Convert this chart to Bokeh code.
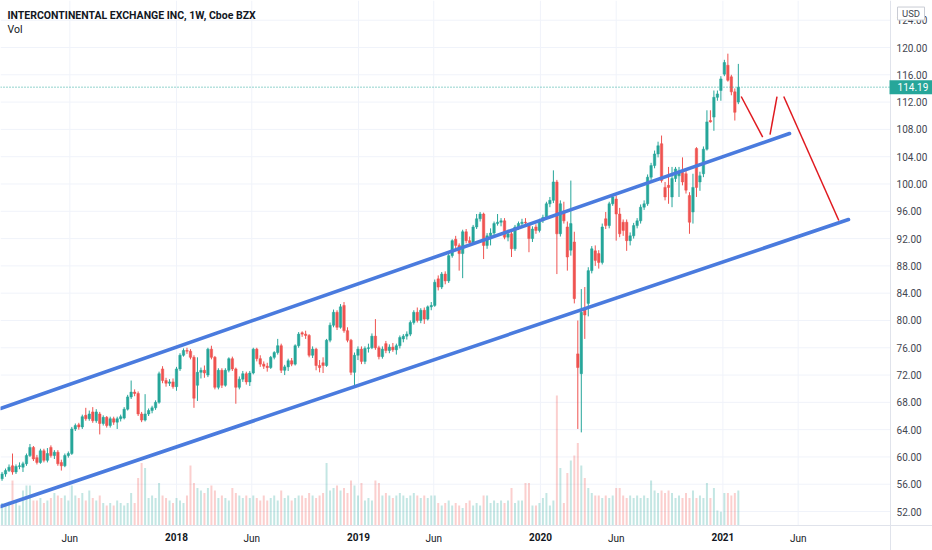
import pandas as pd
from bokeh.plotting import figure
from bokeh.models import (ColumnDataSource, Range1d, FixedTicker, NumeralTickFormatter,
                          Label, LinearAxis)
from bokeh.core.properties import value
from bokeh.embed import file_html
from bokeh.resources import INLINE

# ---------------- data ----------------
first_week = "2017-01-16"

opens = [56.8, 57.5, 58.0, 58.7, 57.8, 58.6, 58.5, 59.0, 60.2, 61.4,
         59.9, 59.2, 60.9, 59.5, 61.4, 60.2, 60.7, 59.2, 58.7, 60.2,
         60.5, 64.1, 64.7, 64.4, 66.1, 65.6, 66.6, 65.3, 66.3, 64.9,
         65.8, 64.6, 65.6, 65.1, 65.6, 65.7, 67.0, 68.8, 69.5, 69.3,
         66.3, 65.4, 66.3, 66.8, 67.2, 68.0, 72.9, 71.2, 70.8, 71.0,
         70.3, 72.9, 74.9, 75.6, 75.5, 74.6, 70.5, 72.4, 72.7, 72.0,
         75.8, 74.6, 70.2, 72.7, 70.5, 72.7, 74.4, 72.9, 70.2, 71.4,
         72.2, 71.0, 72.3, 75.8, 74.4, 73.6, 73.3, 73.1, 74.6, 75.3,
         76.3, 72.7, 73.2, 74.1, 73.6, 76.3, 78.2, 78.0, 77.8, 74.9,
         75.8, 73.4, 73.8, 73.4, 77.1, 79.3, 81.2, 79.0, 82.2, 78.5,
         77.1, 72.4, 74.9, 75.8, 74.0, 75.9, 76.0, 77.7, 76.0, 74.7,
         76.6, 75.6, 76.1, 75.7, 76.3, 77.3, 77.7, 78.0, 79.7, 81.2,
         80.0, 81.5, 80.2, 82.0, 82.2, 86.1, 84.9, 86.8, 85.8, 89.5,
         91.9, 91.0, 89.8, 93.0, 91.7, 91.4, 93.7, 94.9, 95.6, 91.0,
         92.4, 92.8, 94.2, 94.4, 94.6, 92.2, 92.7, 90.5, 93.7, 94.2,
         94.4, 93.9, 92.0, 93.7, 93.2, 94.6, 95.1, 97.1, 97.6, 100.3,
         92.7, 96.0, 93.7, 90.3, 91.5, 75.1, 72.2, 81.6, 82.5, 87.3,
         90.2, 89.8, 88.5, 94.9, 93.9, 97.1, 97.8, 95.6, 94.4, 94.4,
         91.7, 92.4, 93.9, 94.6, 96.6, 97.1, 101.0, 102.7, 104.4, 105.9,
         99.5, 99.8, 98.1, 100.8, 101.2, 101.7, 101.5, 98.3, 95.9, 105.2,
         100.3, 101.5, 105.1, 109.3, 109.8, 112.7, 113.7, 116.1, 117.4, 115.7,
         113.5, 112.0]

highs = [57.8, 58.3, 58.9, 60.5, 58.9, 59.2, 59.3, 60.5, 61.9, 61.6,
         60.3, 61.2, 61.2, 61.3, 61.7, 61.0, 61.0, 59.6, 60.5, 60.8,
         64.4, 64.9, 65.0, 66.2, 67.2, 66.8, 67.3, 67.0, 66.6, 66.1,
         66.0, 65.9, 65.9, 65.9, 66.2, 67.3, 69.1, 71.2, 69.9, 69.6,
         66.6, 69.2, 67.1, 67.5, 68.3, 72.5, 73.3, 71.6, 71.4, 71.5,
         73.2, 75.2, 75.9, 76.0, 75.8, 74.9, 74.6, 73.1, 73.4, 76.0,
         76.3, 74.8, 73.0, 73.0, 73.0, 74.6, 74.7, 73.1, 71.8, 72.6,
         72.5, 72.6, 76.0, 76.0, 74.9, 74.0, 73.8, 74.8, 75.5, 77.3,
         76.6, 73.5, 74.4, 74.5, 76.5, 78.3, 78.4, 78.5, 78.0, 76.2,
         76.0, 74.2, 74.6, 77.3, 79.7, 81.6, 81.5, 82.4, 82.7, 79.0,
         77.3, 75.3, 76.2, 76.2, 76.2, 76.6, 78.1, 80.2, 76.3, 76.2,
         77.0, 76.5, 76.7, 76.6, 77.8, 78.0, 78.4, 80.0, 81.5, 81.9,
         81.8, 81.9, 82.2, 82.7, 86.0, 86.6, 87.1, 87.2, 89.9, 91.9,
         92.4, 91.3, 93.3, 93.4, 92.3, 94.0, 95.6, 95.9, 95.8, 92.8,
         93.5, 94.5, 95.6, 95.0, 95.0, 93.3, 93.0, 94.0, 94.5, 94.9,
         95.0, 94.3, 93.8, 94.1, 94.9, 95.5, 97.4, 98.1, 102.0, 100.6,
         97.6, 97.4, 94.5, 100.5, 93.0, 80.0, 84.6, 84.9, 87.8, 90.9,
         91.0, 90.3, 94.2, 95.9, 97.4, 98.5, 98.3, 96.5, 94.8, 94.8,
         92.9, 94.3, 95.0, 97.0, 97.6, 101.4, 103.1, 104.9, 106.2, 107.1,
         100.3, 102.5, 102.5, 102.5, 102.5, 103.9, 102.0, 98.8, 101.5, 105.4,
         101.8, 105.5, 110.8, 110.8, 113.7, 113.7, 115.8, 118.2, 119.1, 116.0,
         114.0, 117.6]

lows = [56.5, 57.1, 57.8, 57.4, 57.5, 58.2, 57.8, 58.7, 60.0, 59.4,
        58.9, 59.0, 59.2, 59.2, 59.9, 59.7, 58.7, 58.0, 58.5, 59.9,
        60.3, 63.8, 64.0, 64.1, 65.3, 65.3, 65.0, 65.0, 63.3, 64.6,
        64.3, 64.3, 64.7, 64.1, 65.2, 65.5, 66.8, 68.5, 68.9, 66.0,
        65.1, 65.2, 66.0, 66.4, 66.9, 67.8, 70.8, 70.3, 70.4, 70.0,
        69.7, 72.6, 74.7, 75.1, 74.3, 67.2, 68.2, 71.5, 71.6, 71.7,
        74.3, 69.9, 69.9, 70.1, 70.3, 72.4, 72.6, 67.8, 69.9, 71.0,
        70.6, 70.4, 72.1, 74.0, 73.2, 72.9, 72.5, 72.9, 74.3, 75.0,
        72.3, 72.0, 72.6, 73.3, 73.4, 76.0, 77.6, 77.3, 74.6, 74.5,
        72.7, 72.4, 72.3, 73.2, 76.8, 79.0, 78.6, 78.8, 78.2, 76.8,
        72.0, 70.5, 74.2, 73.6, 73.6, 75.3, 75.8, 75.7, 74.3, 74.4,
        75.2, 75.2, 75.4, 75.0, 75.9, 76.8, 77.2, 77.7, 79.4, 79.7,
        79.6, 79.5, 80.0, 81.5, 82.0, 84.4, 84.6, 85.3, 85.5, 89.2,
        90.5, 87.3, 86.2, 91.3, 90.9, 91.1, 93.4, 94.5, 89.0, 90.5,
        91.0, 92.5, 93.9, 93.8, 91.9, 91.6, 89.3, 90.2, 93.3, 93.8,
        93.7, 90.0, 91.5, 92.7, 92.9, 94.3, 94.8, 96.6, 97.2, 86.8,
        92.3, 94.2, 87.3, 89.5, 82.5, 64.1, 63.6, 77.3, 80.6, 86.9,
        88.0, 87.6, 88.2, 93.4, 93.5, 96.8, 91.7, 92.2, 92.4, 90.2,
        91.0, 92.0, 93.5, 94.2, 96.2, 96.8, 100.6, 102.3, 103.9, 100.2,
        97.6, 97.1, 96.6, 100.3, 98.1, 99.8, 98.6, 92.7, 94.2, 98.1,
        99.0, 101.0, 104.9, 109.0, 107.8, 112.2, 112.2, 115.8, 115.0, 113.0,
        109.3, 111.7]

closes = [57.5, 58.0, 58.5, 57.8, 58.6, 58.7, 59.0, 60.2, 61.4, 59.7,
          59.2, 60.9, 59.5, 60.5, 60.2, 60.7, 59.0, 58.7, 60.2, 60.5,
          64.1, 64.6, 64.4, 65.9, 65.6, 66.3, 65.3, 66.6, 64.9, 65.8,
          64.6, 65.6, 65.1, 65.6, 65.9, 67.0, 68.8, 69.5, 69.3, 66.3,
          65.4, 66.3, 66.8, 67.2, 68.0, 72.2, 71.2, 70.8, 71.0, 70.3,
          72.9, 74.9, 75.6, 75.5, 74.6, 68.6, 72.4, 72.7, 72.3, 75.8,
          74.6, 70.2, 72.7, 70.5, 72.7, 74.4, 72.9, 70.2, 71.4, 72.2,
          71.0, 72.3, 75.8, 74.4, 73.6, 73.3, 73.1, 74.6, 75.3, 76.3,
          72.7, 73.2, 74.1, 73.6, 76.3, 78.0, 78.0, 77.8, 74.9, 75.8,
          73.4, 73.1, 73.4, 77.1, 79.3, 81.2, 79.0, 82.0, 78.5, 77.1,
          72.4, 74.9, 75.8, 74.0, 75.9, 76.0, 77.7, 76.0, 74.7, 75.8,
          75.6, 76.1, 75.7, 76.3, 77.5, 77.7, 78.0, 79.7, 81.2, 80.0,
          81.5, 80.2, 82.0, 82.2, 85.6, 84.9, 86.8, 85.8, 89.5, 91.7,
          91.0, 89.8, 93.0, 91.7, 91.4, 93.7, 94.9, 95.6, 91.0, 92.4,
          92.8, 94.2, 94.4, 94.6, 92.2, 92.7, 90.5, 93.7, 94.2, 94.4,
          94.3, 92.0, 93.4, 93.2, 94.6, 95.1, 97.1, 97.6, 100.3, 92.7,
          97.1, 94.6, 89.3, 94.2, 83.2, 73.1, 81.2, 80.8, 87.3, 90.5,
          88.8, 88.5, 93.7, 93.9, 97.1, 98.1, 95.6, 92.7, 93.2, 91.7,
          92.4, 93.9, 94.6, 96.6, 97.1, 101.0, 102.7, 104.4, 105.6, 100.5,
          98.1, 99.5, 100.8, 102.2, 101.8, 100.3, 99.1, 94.4, 99.5, 99.5,
          101.2, 105.1, 109.1, 109.1, 112.7, 113.2, 115.4, 117.8, 115.2, 113.5,
          110.5, 114.19]

volumes = [9, 8.5, 9.5, 18, 9, 8, 14, 16, 16, 10,
           10, 11, 9, 10, 11, 13, 12, 11, 12, 10,
           16, 12, 11, 13, 10, 14, 11, 10, 12, 9,
           8, 9, 8, 10, 9, 8, 9, 13, 9, 19,
           25, 23, 11, 12, 11, 17, 12, 11, 10, 9,
           11, 10, 9, 12, 24, 17, 15, 14, 13, 15,
           16, 14, 11, 12, 11, 10, 15, 13, 12, 11,
           12, 11, 12, 11, 10, 12, 10, 11, 12, 10,
           14, 11, 12, 10, 11, 12, 12, 11, 13, 12,
           11, 12, 13, 25, 14, 15, 16, 14, 15, 13,
           18, 16, 12, 17, 10, 11, 10, 18, 17, 12,
           13, 12, 11, 12, 13, 12, 11, 12, 13, 12,
           11, 12, 11, 12, 12, 9, 8, 9, 10, 8,
           9, 8, 7, 9, 10, 8, 9, 8, 12, 12,
           9, 10, 9, 10, 9, 10, 15, 9, 10, 10,
           17, 17, 8, 8, 9, 11, 13, 8, 10, 52,
           23, 9, 21, 26, 28, 33, 24, 19, 15, 13,
           12, 12, 11, 12, 11, 12, 15, 15, 12, 11,
           12, 11, 12, 11, 12, 11, 18, 14, 13, 14,
           13, 14, 13, 11, 12, 11, 13, 11, 14, 11,
           12, 11, 17, 11, 15, 6, 5.5, 13, 13, 12,
           13, 14]

last_price = 114.19

month_tick_dates = ["2017-06-01", "2018-06-01", "2019-06-01", "2020-06-01", "2021-06-01"]
month_tick_labels = ["Jun", "Jun", "Jun", "Jun", "Jun"]
year_tick_dates = ["2018-01-01", "2019-01-01", "2020-01-01", "2021-01-01"]
year_tick_labels = ["2018", "2019", "2020", "2021"]
price_ticks = [52, 56, 60, 64, 68, 72, 76, 80, 84, 88, 92, 96, 100, 104, 108, 112, 116, 120, 124]

upper_channel_dates = ["2017-01-12 22:00", "2021-05-14 17:00"]
upper_channel_prices = [67.10, 107.40]
lower_channel_dates = ["2017-01-12 22:00", "2021-09-10 00:00"]
lower_channel_prices = [52.74, 94.80]

projection_dates = [["2021-02-06 19:00", "2021-03-21 21:00"],
                    ["2021-04-05 14:00", "2021-04-19 14:00"],
                    ["2021-05-03 02:00", "2021-08-21 14:00"]]
projection_prices = [[112.82, 106.86], [107.25, 112.82], [112.82, 94.65]]

title_text = "INTERCONTINENTAL EXCHANGE INC, 1W, Cboe BZX"
sub_text = "Vol"
currency = "USD"

# ---------------- view geometry (data units) ----------------
x_start, x_end = "2017-01-12 22:00", "2022-02-25 12:00"   # full canvas width
plot_right = "2021-12-03 07:00"                           # price-scale separator
tag_center = "2022-01-13 10:00"
usd_center = "2022-01-13 10:00"
y_start, y_end = 46.29, 126.89                            # full canvas height
time_axis_level = 49.95                                   # time-scale separator
usd_level = 124.98
vol_start, vol_end = -10.0, 210.0


def ms(d):
    return pd.Timestamp(d).value / 1e6


DAY = 86400000.0
UP = "#26a69a"
DOWN = "#ef5350"
TEXT = "#131722"
SCALE_TEXT = "#434651"
GRID = "#f0f3fa"
AXIS = "#e0e3eb"
FONT = "Roboto"

dates = pd.date_range(first_week, periods=len(closes), freq="7D")
xs = [d.value / 1e6 for d in dates]
is_up = [c >= o for o, c in zip(opens, closes)]
src = ColumnDataSource(dict(
    x=xs, o=opens, h=highs, l=lows, c=closes, v=volumes,
    top=[max(o, c) for o, c in zip(opens, closes)],
    bot=[min(o, c) for o, c in zip(opens, closes)],
    color=[UP if u else DOWN for u in is_up],
))

p = figure(width=932, height=550, x_range=Range1d(ms(x_start), ms(x_end)),
           y_range=Range1d(y_start, y_end), x_axis_location=None, y_axis_location=None,
           toolbar_location=None, output_backend="svg", min_border=0,
           outline_line_color=None, background_fill_color="white", border_fill_color="white")
p.xgrid.visible = False
p.ygrid.visible = False
p.extra_y_ranges = {"vol": Range1d(vol_start, vol_end)}

x_right = ms(plot_right)
all_time_ticks = [ms(d) for d in month_tick_dates + year_tick_dates]

# grid lines, limited to the plotting pane
p.segment(x0=all_time_ticks, y0=time_axis_level, x1=all_time_ticks, y1=y_end,
          line_color=GRID, line_width=1)
p.segment(x0=ms(x_start), y0=price_ticks, x1=x_right, y1=price_ticks,
          line_color=GRID, line_width=1)

# volume
p.vbar(x="x", top="v", bottom=0, width=4.0 * DAY, source=src, y_range_name="vol",
       fill_color="color", line_color=None, fill_alpha=0.28)

# candles
p.segment(x0="x", y0="h", x1="x", y1="l", source=src, line_color="color", line_width=1)
p.vbar(x="x", top="top", bottom="bot", width=4.9 * DAY, source=src,
       fill_color="color", line_color="color", line_width=0.5)

# channels
p.line([ms(d) for d in upper_channel_dates], upper_channel_prices, line_color="#4a7bde",
       line_width=3.6, line_cap="round")
p.line([ms(d) for d in lower_channel_dates], lower_channel_prices, line_color="#4a7bde",
       line_width=3.6, line_cap="round")

# projections
p.multi_line([[ms(d) for d in seg] for seg in projection_dates], projection_prices,
             line_color="#e0191f", line_width=1.5)

# last price dotted line
p.segment(x0=ms(x_start), y0=last_price, x1=x_right, y1=last_price,
          line_color=UP, line_dash="1 2", line_width=1)

# price scale (right)
ya = LinearAxis(fixed_location=x_right, ticker=FixedTicker(ticks=price_ticks),
                formatter=NumeralTickFormatter(format="0.00"))
ya.axis_line_color = AXIS
ya.major_tick_line_color = None
ya.major_tick_out = 0
ya.major_tick_in = 0
ya.minor_tick_line_color = None
ya.minor_tick_out = 0
ya.major_label_text_font = FONT
ya.major_label_text_font_size = "10px"
ya.major_label_text_color = SCALE_TEXT
ya.major_label_standoff = 6
p.add_layout(ya, "right")

# time scale: months (normal) and years (bold) share the same baseline
xa_m = LinearAxis(fixed_location=time_axis_level,
                  ticker=FixedTicker(ticks=[ms(d) for d in month_tick_dates]))
xa_m.major_label_overrides = {ms(d): lab for d, lab in zip(month_tick_dates, month_tick_labels)}
xa_y = LinearAxis(fixed_location=time_axis_level,
                  ticker=FixedTicker(ticks=[ms(d) for d in year_tick_dates]))
xa_y.major_label_overrides = {ms(d): lab for d, lab in zip(year_tick_dates, year_tick_labels)}
for ax, style in ((xa_m, "normal"), (xa_y, "bold")):
    ax.axis_line_color = AXIS
    ax.major_tick_line_color = None
    ax.major_tick_out = 0
    ax.major_tick_in = 0
    ax.minor_tick_line_color = None
    ax.minor_tick_out = 0
    ax.major_label_text_font = FONT
    ax.major_label_text_font_size = "10px"
    ax.major_label_text_font_style = style
    ax.major_label_text_color = TEXT
    ax.major_label_standoff = 7
    p.add_layout(ax, "below")

# header texts
p.add_layout(Label(x=ms(x_start), y=y_end, x_offset=7, y_offset=-14.5, text=title_text,
                   text_baseline="middle", text_font=FONT, text_font_size="10.5px",
                   text_font_style="bold", text_color=TEXT))
p.add_layout(Label(x=ms(x_start), y=y_end, x_offset=7, y_offset=-28.5, text=sub_text,
                   text_baseline="middle", text_font=FONT, text_font_size="10.5px",
                   text_color=TEXT))

# last price tag
p.rect(x=[ms(tag_center)], y=[last_price], width=43, height=14, width_units="screen",
       height_units="screen", fill_color=UP, line_color=None, level="overlay")
p.text(x=[x_right], y=[last_price], text=[f"{last_price:.2f}"], x_offset=7,
       text_baseline="middle", text_align="left", text_color="white",
       text_font=value(FONT), text_font_size=value("10px"), level="overlay")

# currency box
p.rect(x=[ms(usd_center)], y=[usd_level], width=27, height=13, width_units="screen",
       height_units="screen", fill_color="white", line_color="#c9ccd4", line_width=1,
       level="overlay")
p.text(x=[ms(usd_center)], y=[usd_level], text=[currency], text_baseline="middle",
       text_align="center", text_color=SCALE_TEXT, text_font=value(FONT),
       text_font_size=value("9.5px"), level="overlay")

open("out.html", "w").write(file_html(p, INLINE))
